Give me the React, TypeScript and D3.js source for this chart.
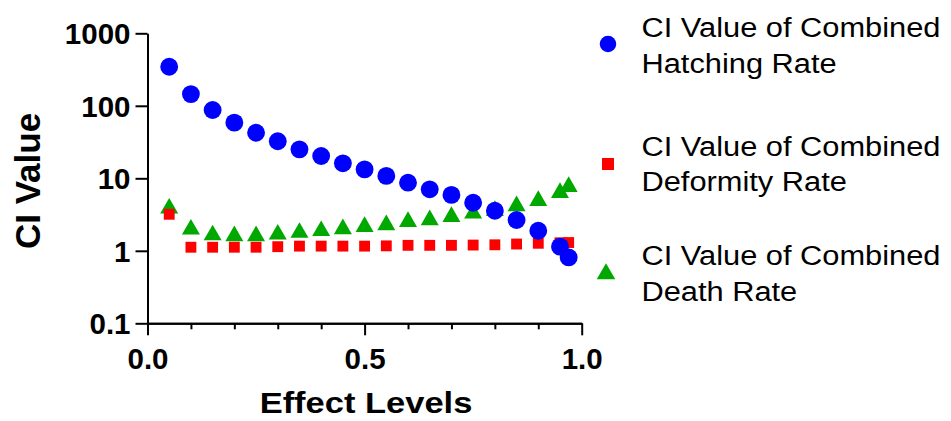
import React, { useRef, useEffect } from 'react';
import * as d3 from 'd3';

const width = 951;
const height = 421;

// effect levels (fa)
const effectLevels = [0.05, 0.1, 0.15, 0.2, 0.25, 0.3, 0.35, 0.4, 0.45, 0.5, 0.55, 0.6, 0.65, 0.7, 0.75, 0.8, 0.85, 0.9, 0.95, 0.97];

const hatchingCI = [346, 145, 87.5, 58.5, 42.5, 32.4, 25.1, 20.3, 16.1, 13.3, 10.8, 8.7, 7.05, 5.9, 4.6, 3.57, 2.66, 1.89, 1.14, 0.81];
const deformityCI = [3.19, 1.12, 1.12, 1.12, 1.12, 1.14, 1.16, 1.16, 1.16, 1.16, 1.17, 1.19, 1.19, 1.19, 1.2, 1.21, 1.24, 1.27, 1.29, 1.3];
const deathCI = [3.86, 1.98, 1.65, 1.6, 1.6, 1.69, 1.78, 1.89, 2.0, 2.15, 2.27, 2.52, 2.66, 2.95, 3.29, 3.57, 4.15, 4.91, 6.33, 7.66];

const yTicks = [0.1, 1, 10, 100, 1000];
const xMajorTicks = [0, 0.5, 1];
const xMinorTicks = [0.1, 0.2, 0.3, 0.4, 0.6, 0.7, 0.8, 0.9];

const legendLabels = [
    ['CI Value of Combined', 'Hatching Rate'],
    ['CI Value of Combined', 'Deformity Rate'],
    ['CI Value of Combined', 'Death Rate']
];

const font = 'Liberation Sans, Arial, sans-serif';

export default function App() {
    const svgRef = useRef<SVGSVGElement>(null);

    useEffect(() => {
        const svg = d3.select(svgRef.current);
        svg.selectAll('*').remove();

        const x = d3.scaleLinear().domain([0, 1]).range([147.5, 581.7]);
        const y = d3.scaleLog().domain([0.1, 1000]).range([323.3, 33.3]);

        // y axis
        const yAxis = svg.append('g')
            .attr('transform', `translate(${x(0)},0)`)
            .call(d3.axisLeft(y)
                .tickValues(yTicks)
                .tickFormat(d => String(d))
                .tickSize(12)
                .tickSizeOuter(0)
                .tickPadding(5));
        yAxis.selectAll('text')
            .attr('font-family', font)
            .attr('font-weight', 'bold')
            .attr('font-size', 29.5)
            .attr('dy', '0.36em')
            .attr('fill', '#000');

        // x axis minor ticks
        svg.append('g')
            .attr('transform', `translate(0,${y(0.1)})`)
            .call(d3.axisBottom(x)
                .tickValues(xMinorTicks)
                .tickFormat(() => '')
                .tickSize(6)
                .tickSizeOuter(0));

        const xAxis = svg.append('g')
            .attr('transform', `translate(0,${y(0.1)})`)
            .call(d3.axisBottom(x)
                .tickValues(xMajorTicks)
                .tickFormat(d3.format('.1f'))
                .tickSize(12)
                .tickSizeOuter(0)
                .tickPadding(13));
        xAxis.selectAll('text')
            .attr('font-family', font)
            .attr('font-weight', 'bold')
            .attr('font-size', 29.5)
            .attr('fill', '#000');

        svg.selectAll('.domain, .tick line')
            .attr('stroke', '#000')
            .attr('stroke-width', 2);

        // axis titles
        svg.append('text')
            .attr('transform', `translate(40,181) rotate(-90)`)
            .attr('text-anchor', 'middle')
            .attr('font-family', font)
            .attr('font-weight', 'bold')
            .attr('font-size', 35)
            .text('CI Value');

        svg.append('text')
            .attr('transform', `translate(366,413) scale(1.15,1)`)
            .attr('text-anchor', 'middle')
            .attr('font-family', font)
            .attr('font-weight', 'bold')
            .attr('font-size', 30)
            .text('Effect Levels');

        const series = [
            { values: deathCI, color: '#00A800', type: d3.symbolTriangle, size: 140 },
            { values: deformityCI, color: '#FF0000', type: d3.symbolSquare, size: 118 },
            { values: hatchingCI, color: '#0000FF', type: d3.symbolCircle, size: 250 }
        ];

        series.forEach(s => {
            const sym = d3.symbol().type(s.type).size(s.size);
            svg.append('g')
                .selectAll('path')
                .data(s.values)
                .join('path')
                .attr('transform', (d, i) => `translate(${x(effectLevels[i])},${y(d)})`)
                .attr('d', sym())
                .attr('fill', s.color);
        });

        // legend
        const legendItems = [
            { color: '#0000FF', type: d3.symbolCircle, size: 215, mx: 608, my: 44, base: 37 },
            { color: '#FF0000', type: d3.symbolSquare, size: 144, mx: 608, my: 164, base: 155.5 },
            { color: '#00A800', type: d3.symbolTriangle, size: 150, mx: 606, my: 274, base: 265 }
        ];

        legendItems.forEach((item, k) => {
            svg.append('path')
                .attr('transform', `translate(${item.mx},${item.my})`)
                .attr('d', d3.symbol().type(item.type).size(item.size)())
                .attr('fill', item.color);
            legendLabels[k].forEach((line, j) => {
                svg.append('text')
                    .attr('transform', `translate(641.5,${item.base + j * 35.5}) scale(1.1,1)`)
                    .attr('font-family', font)
                    .attr('font-size', 28)
                    .attr('fill', '#000')
                    .text(line);
            });
        });
    }, []);

    return (
        <svg
            ref={svgRef}
            width={width}
            height={height}
            style={{ position: 'absolute', left: 0, top: 0, background: '#fff' }}
        />
    );
}
